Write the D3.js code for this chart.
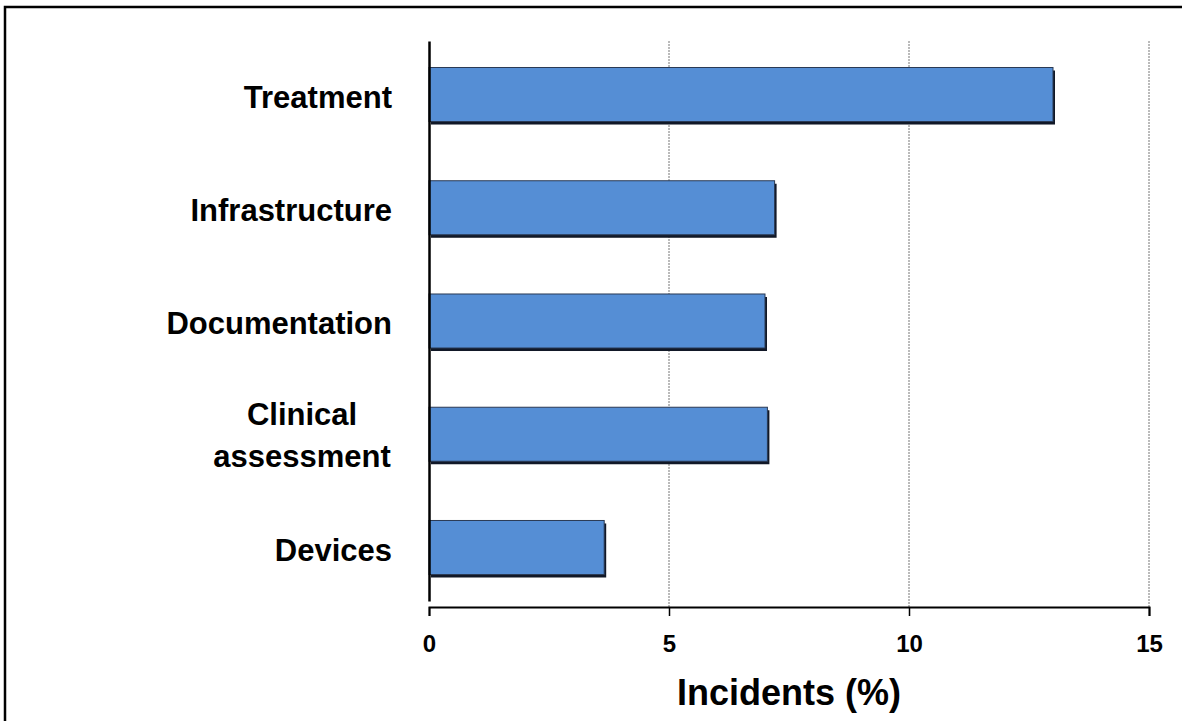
<!DOCTYPE html>
<html>
<head>
<meta charset="utf-8">
<script src="https://cdn.jsdelivr.net/npm/d3@7"></script>
<style>
  body { margin: 0; background: #fff; }
  svg { display: block; font-family: Arial, "Liberation Sans", sans-serif; font-weight: bold; }
</style>
</head>
<body>
<script>
// chart data
const categories = ["Treatment", "Infrastructure", "Documentation", "Clinical assessment", "Devices"];
const incidents = [13.0, 7.2, 7.0, 7.05, 3.65];
const xTicks = [0, 5, 10, 15];

const W = 1182, H = 721;
const margin = {top: 41, right: 33, bottom: 114, left: 429};
const width = W - margin.left - margin.right;
const height = H - margin.top - margin.bottom;

const svg = d3.select("body").append("svg")
    .attr("width", W)
    .attr("height", H);

// outer frame (runs off the right/bottom edge)
svg.append("rect")
    .attr("x", 5).attr("y", 7)
    .attr("width", W + 10).attr("height", H + 10)
    .attr("fill", "none")
    .attr("stroke", "#000")
    .attr("stroke-width", 2.5);

const g = svg.append("g")
    .attr("transform", "translate(" + margin.left + "," + margin.top + ")");

// scales
const xScale = d3.scaleLinear()
    .domain([0, 15])
    .range([0, width]);

const yScale = d3.scaleBand()
    .domain(categories)
    .range([0, height - 6])
    .paddingInner(0.523)
    .paddingOuter(0.234);

// dotted gridlines
g.selectAll(".grid")
    .data(xTicks.filter(d => d > 0))
    .enter().append("line")
    .attr("x1", d => xScale(d)).attr("x2", d => xScale(d))
    .attr("y1", 0).attr("y2", height)
    .attr("stroke", "#777")
    .attr("stroke-width", 1)
    .attr("stroke-dasharray", "2,1");

// bar shadows
g.selectAll(".shadow")
    .data(categories)
    .enter().append("rect")
    .attr("x", 2)
    .attr("y", d => yScale(d) + 3)
    .attr("width", (d, i) => xScale(incidents[i]))
    .attr("height", yScale.bandwidth())
    .attr("fill", "#111827");

// bars
g.selectAll(".bar")
    .data(categories)
    .enter().append("rect")
    .attr("x", 0)
    .attr("y", d => yScale(d))
    .attr("width", (d, i) => xScale(incidents[i]))
    .attr("height", yScale.bandwidth())
    .attr("fill", "#558ed5")
    .attr("stroke", "#2a3a55")
    .attr("stroke-width", 1);

// x axis
const xAxis = g.append("g")
    .attr("transform", "translate(0," + height + ")")
    .call(d3.axisBottom(xScale).tickValues(xTicks).tickSize(9).tickPadding(19));
xAxis.select(".domain").attr("stroke", "#000").attr("stroke-width", 2);
xAxis.selectAll(".tick line").attr("stroke", "#000").attr("stroke-width", 1.5);
xAxis.selectAll(".tick text")
    .attr("fill", "#000")
    .style("font-size", "24px")
    .style("font-weight", "bold")
    .style("font-family", "Arial, 'Liberation Sans', sans-serif");

// y axis line
const yAxis = g.append("g")
    .call(d3.axisLeft(yScale).tickSize(0).tickFormat(""));
yAxis.select(".domain").attr("stroke", "#000").attr("stroke-width", 2.5);

// category labels
categories.forEach(c => {
    const cy = yScale(c) + yScale.bandwidth() / 2;
    const words = c.split(" ");
    if (words.length > 1) {
        const t = g.append("text")
            .attr("x", -127)
            .attr("y", cy)
            .attr("text-anchor", "middle")
            .style("font-size", "31px");
        t.append("tspan").attr("x", -127).attr("dy", "-0.29em").text(words[0]);
        t.append("tspan").attr("x", -127).attr("dy", "1.36em").text(words[1]);
    } else {
        g.append("text")
            .attr("x", -37)
            .attr("y", cy)
            .attr("dy", "0.42em")
            .attr("text-anchor", "end")
            .style("font-size", "31px")
            .text(c);
    }
});

// axis title
g.append("text")
    .attr("x", width / 2)
    .attr("y", height + 98)
    .attr("text-anchor", "middle")
    .style("font-size", "36px")
    .text("Incidents (%)");
</script>
</body>
</html>
